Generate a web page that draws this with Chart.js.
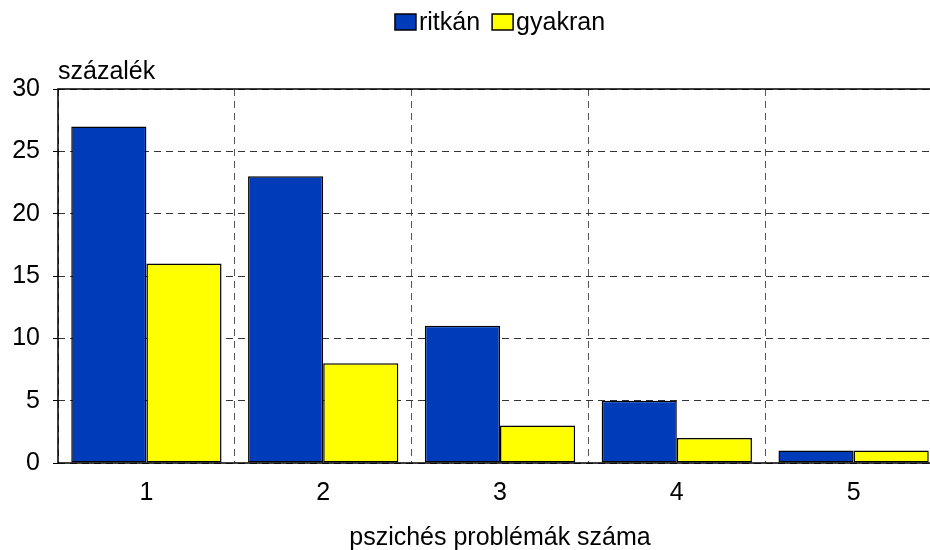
<!DOCTYPE html>
<html>
<head>
<meta charset="utf-8">
<title>Pszichés problémák száma</title>
<script src="https://cdn.jsdelivr.net/npm/chart.js"></script>
<style>
  html, body { margin: 0; padding: 0; background: #fff; overflow: hidden; }
  #wrap { width: 1000px; height: 550px; }
</style>
</head>
<body>
<div id="wrap"><canvas id="chart" width="1000" height="550"></canvas></div>
<script>
const categories = ["1", "2", "3", "4", "5"];
const ritkan = [27, 23, 11, 5, 1];
const gyakran = [16, 8, 3, 2, 1];
const seriesNames = ["ritkán", "gyakran"];
const yTicks = [0, 5, 10, 15, 20, 25, 30];

const FONT = "'Liberation Sans', Arial, sans-serif";
const FSIZE = 25;
const BLUE = "#003cb9";
const YELLOW = "#ffff00";

// box around the plot, y axis caption and the legend on top
const decor = {
  id: "decor",
  afterDraw(chart) {
    const { ctx, chartArea: a } = chart;
    ctx.save();
    ctx.strokeStyle = "#000";
    ctx.lineWidth = 1.5;
    ctx.setLineDash([]);
    ctx.strokeRect(a.left, a.top, a.right - a.left, a.bottom - a.top);

    ctx.fillStyle = "#000";
    ctx.font = FSIZE + "px " + FONT;
    ctx.textAlign = "left";
    ctx.textBaseline = "alphabetic";
    ctx.fillText("százalék", a.left, a.top - 10);

    // legend
    const items = chart.data.datasets.map(d => ({ text: d.label, color: d.backgroundColor }));
    const boxW = 21, boxH = 16, gap = 3, between = 12;
    let total = 0;
    items.forEach((it, i) => {
      it.w = ctx.measureText(it.text).width;
      total += boxW + gap + it.w + (i ? between : 0);
    });
    let x = (a.left + a.right) / 2 - total / 2;
    const cy = 22;
    items.forEach((it, i) => {
      if (i) x += between;
      ctx.fillStyle = it.color;
      ctx.fillRect(x, cy - boxH / 2, boxW, boxH);
      ctx.lineWidth = 1.5;
      ctx.strokeStyle = "#000";
      ctx.strokeRect(x, cy - boxH / 2, boxW, boxH);
      ctx.fillStyle = "#000";
      ctx.textBaseline = "middle";
      ctx.fillText(it.text, x + boxW + gap, cy + 1);
      x += boxW + gap + it.w;
    });
    ctx.restore();
  }
};

new Chart(document.getElementById("chart"), {
  type: "bar",
  data: {
    labels: categories,
    datasets: [
      { label: seriesNames[0], data: ritkan, backgroundColor: BLUE, borderColor: "#000", borderWidth: 1.5, borderSkipped: false },
      { label: seriesNames[1], data: gyakran, backgroundColor: YELLOW, borderColor: "#000", borderWidth: 1.5, borderSkipped: false }
    ]
  },
  options: {
    responsive: false,
    animation: false,
    layout: { padding: { left: 0, right: 58, top: 89, bottom: 0 } },
    categoryPercentage: 0.85,
    barPercentage: 1.0,
    plugins: {
      legend: { display: false },
      tooltip: { enabled: false }
    },
    scales: {
      x: {
        afterFit: s => { s.height = 87; },
        grid: { color: "#555", lineWidth: 1, drawTicks: false, offset: true },
        border: { display: false, dash: [7, 5] },
        ticks: { color: "#000", font: { family: FONT, size: FSIZE }, padding: 15 },
        title: {
          display: true,
          text: "pszichés problémák száma",
          color: "#000",
          font: { family: FONT, size: FSIZE },
          padding: { top: 0, bottom: -3 }
        }
      },
      y: {
        min: 0,
        max: 30,
        afterBuildTicks: s => { s.ticks = yTicks.map(v => ({ value: v })); },
        afterFit: s => { s.width = 58; },
        grid: { color: "#333", lineWidth: 1, tickLength: 5, tickColor: "#000", tickBorderDash: [] },
        border: { display: false, dash: [7, 5] },
        ticks: { color: "#000", font: { family: FONT, size: FSIZE }, padding: 13 }
      }
    }
  },
  plugins: [decor]
});
</script>
</body>
</html>
